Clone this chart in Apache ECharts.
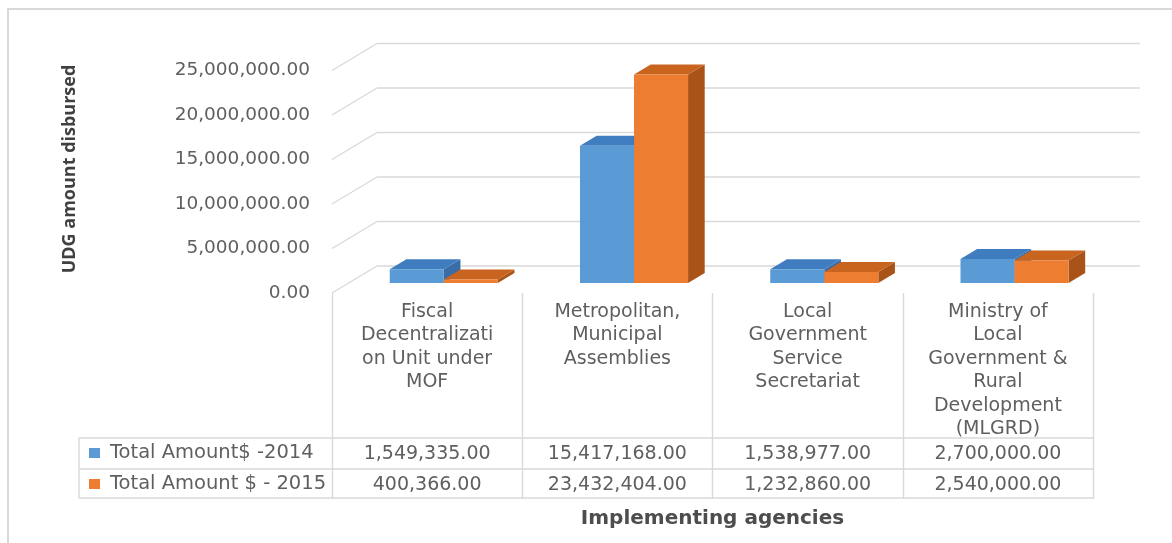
<!DOCTYPE html>
<html>
<head>
<meta charset="utf-8">
<style>
  html, body { margin: 0; padding: 0; background: #ffffff; }
  #chart { width: 1172px; height: 543px; }
</style>
<script src="https://cdn.jsdelivr.net/npm/echarts@6/dist/echarts.min.js"></script>
</head>
<body>
<div id="chart"></div>
<script>
// Agencies (wrapped the way they appear in the data table header)
const categories = [
  'Fiscal\nDecentralizati\non Unit under\nMOF',
  'Metropolitan,\nMunicipal\nAssemblies',
  'Local\nGovernment\nService\nSecretariat',
  'Ministry of\nLocal\nGovernment &\nRural\nDevelopment\n(MLGRD)'
];
const seriesNames = ['Total Amount$ -2014', 'Total Amount $ - 2015'];
const amount2014 = [1549335, 15417168, 1538977, 2700000];
const amount2015 = [400366, 23432404, 1232860, 2540000];
const yTicks = [0, 5000000, 10000000, 15000000, 20000000, 25000000];

// Oblique 3D projection: front plane -> back wall offset, in pixels
const DEPTH = [45, -27];
const BAR_FRONT = 0.37;   // depth fraction where bar front faces sit
const BAR_BACK = 0.74;    // depth fraction where bar back faces sit
const BAR_SHARE = 0.284;  // bar width as share of the category band

const GRID_COLOR = '#d9d9d9';
const TEXT_COLOR = '#5f5f5f';
const FONT = 'DejaVu Sans';

const palette = [
  { front: '#5B9BD5', top: '#3F7DC0', side: '#3A6DA6' },
  { front: '#ED7D31', top: '#C9641F', side: '#AA5319' }
];

const fmt = v => v.toLocaleString('en-US', { minimumFractionDigits: 2, maximumFractionDigits: 2 });

function barRenderer(side) {
  const c = palette[side];
  return function (params, api) {
    const idx = api.value(0);
    const top = api.coord([idx, api.value(1)]);
    const base = api.coord([idx, 0]);
    const w = api.size([1, 0])[0] * BAR_SHARE;
    const x0 = side === 0 ? top[0] - w : top[0];
    const x1 = x0 + w;
    const fx = DEPTH[0] * BAR_FRONT, fy = DEPTH[1] * BAR_FRONT;
    const bx = DEPTH[0] * BAR_BACK, by = DEPTH[1] * BAR_BACK;
    const yt = top[1], yb = base[1];
    return {
      type: 'group',
      children: [
        { type: 'polygon', shape: { points: [[x1 + fx, yt + fy], [x1 + bx, yt + by], [x1 + bx, yb + by], [x1 + fx, yb + fy]] }, style: { fill: c.side } },
        { type: 'polygon', shape: { points: [[x0 + fx, yt + fy], [x1 + fx, yt + fy], [x1 + bx, yt + by], [x0 + bx, yt + by]] }, style: { fill: c.top } },
        { type: 'polygon', shape: { points: [[x0 + fx, yt + fy], [x1 + fx, yt + fy], [x1 + fx, yb + fy], [x0 + fx, yb + fy]] }, style: { fill: c.front } }
      ]
    };
  };
}

// Side-wall diagonals and back-wall gridlines for each tick value
function frameRenderer(params, api) {
  const cs = params.coordSys;
  const y = api.coord([0, api.value(1)])[1];
  const st = { stroke: GRID_COLOR, lineWidth: 1.4 };
  return {
    type: 'group',
    children: [
      { type: 'line', shape: { x1: cs.x, y1: y, x2: cs.x + DEPTH[0], y2: y + DEPTH[1] }, style: st },
      { type: 'line', shape: { x1: cs.x + DEPTH[0], y1: y + DEPTH[1], x2: cs.x + cs.width + DEPTH[0] + 2, y2: y + DEPTH[1] }, style: st }
    ]
  };
}

// Value cells of the data table under each category
function tableRenderer(params, api) {
  const idx = api.value(0);
  const p = api.coord([idx, 0]);
  const st = { font: '19px "' + FONT + '"', fill: TEXT_COLOR, align: 'center', verticalAlign: 'middle' };
  return {
    type: 'group',
    children: [
      { type: 'text', x: p[0], y: p[1] + 161, style: Object.assign({ text: fmt(api.value(1)) }, st) },
      { type: 'text', x: p[0], y: p[1] + 192, style: Object.assign({ text: fmt(api.value(2)) }, st) }
    ]
  };
}

const chart = echarts.init(document.getElementById('chart'), null, { renderer: 'canvas' });

const tableLine = (x1, y1, x2, y2) => ({
  type: 'line', silent: true,
  shape: { x1, y1, x2, y2 },
  style: { stroke: GRID_COLOR, lineWidth: 1.4 }
});

chart.setOption({
  backgroundColor: '#ffffff',
  animation: false,
  grid: { left: 332, right: 79, top: 70.5, bottom: 250 },
  legend: {
    orient: 'vertical',
    left: 89, top: 443,
    padding: 0,
    itemWidth: 11, itemHeight: 10, itemGap: 11,
    icon: 'rect',
    data: seriesNames,
    textStyle: { fontFamily: FONT, fontSize: 19.5, color: TEXT_COLOR, lineHeight: 20, padding: [0, 0, 0, 5] }
  },
  xAxis: {
    type: 'category',
    data: categories,
    axisLine: { show: false },
    axisTick: { show: true, length: 206, lineStyle: { color: GRID_COLOR, width: 1.4 } },
    axisLabel: { interval: 0, fontFamily: FONT, fontSize: 19, lineHeight: 23.5, color: TEXT_COLOR, margin: 7 },
    splitLine: { show: false },
    name: 'Implementing agencies',
    nameLocation: 'middle',
    nameGap: 216,
    nameTextStyle: { fontFamily: FONT, fontSize: 20, fontWeight: 'bold', color: '#4d4d4d' }
  },
  yAxis: {
    type: 'value',
    min: 0, max: 25000000, interval: 5000000,
    axisLine: { show: false },
    axisTick: { show: false },
    splitLine: { show: false },
    axisLabel: { formatter: fmt, fontFamily: FONT, fontSize: 18.5, color: TEXT_COLOR, margin: 22, padding: [3, 0, 0, 0] }
  },
  graphic: [
    { type: 'rect', silent: true, z: -10, shape: { x: 8, y: 9, width: 1200, height: 600 }, style: { fill: 'none', stroke: GRID_COLOR, lineWidth: 2 } },
    {
      type: 'text', silent: true, x: 70, y: 169, rotation: Math.PI / 2,
      style: { text: 'UDG amount disbursed', font: 'bold 18px "Open Sans"', fill: '#404040', align: 'center', verticalAlign: 'middle' }
    },
    tableLine(79, 438, 1093, 438),
    tableLine(79, 469, 1093, 469),
    tableLine(79, 498, 1093, 498),
    tableLine(79, 438, 79, 498)
  ],
  series: [
    {
      name: 'frame', type: 'custom', silent: true, z: 1,
      data: yTicks.map(v => [0, v]),
      encode: { x: 0, y: 1 },
      renderItem: frameRenderer
    },
    {
      name: seriesNames[0], type: 'custom', z: 3,
      itemStyle: { color: palette[0].front },
      data: amount2014.map((v, i) => [i, v]),
      encode: { x: 0, y: 1 },
      renderItem: barRenderer(0)
    },
    {
      name: seriesNames[1], type: 'custom', z: 4,
      itemStyle: { color: palette[1].front },
      data: amount2015.map((v, i) => [i, v]),
      encode: { x: 0, y: 1 },
      renderItem: barRenderer(1)
    },
    {
      name: 'table', type: 'custom', silent: true, z: 2,
      data: categories.map((c, i) => [i, amount2014[i], amount2015[i]]),
      dimensions: ['idx', 'a2014', 'a2015'],
      encode: { x: 0, y: 1 },
      renderItem: tableRenderer
    }
  ]
});
</script>
</body>
</html>
